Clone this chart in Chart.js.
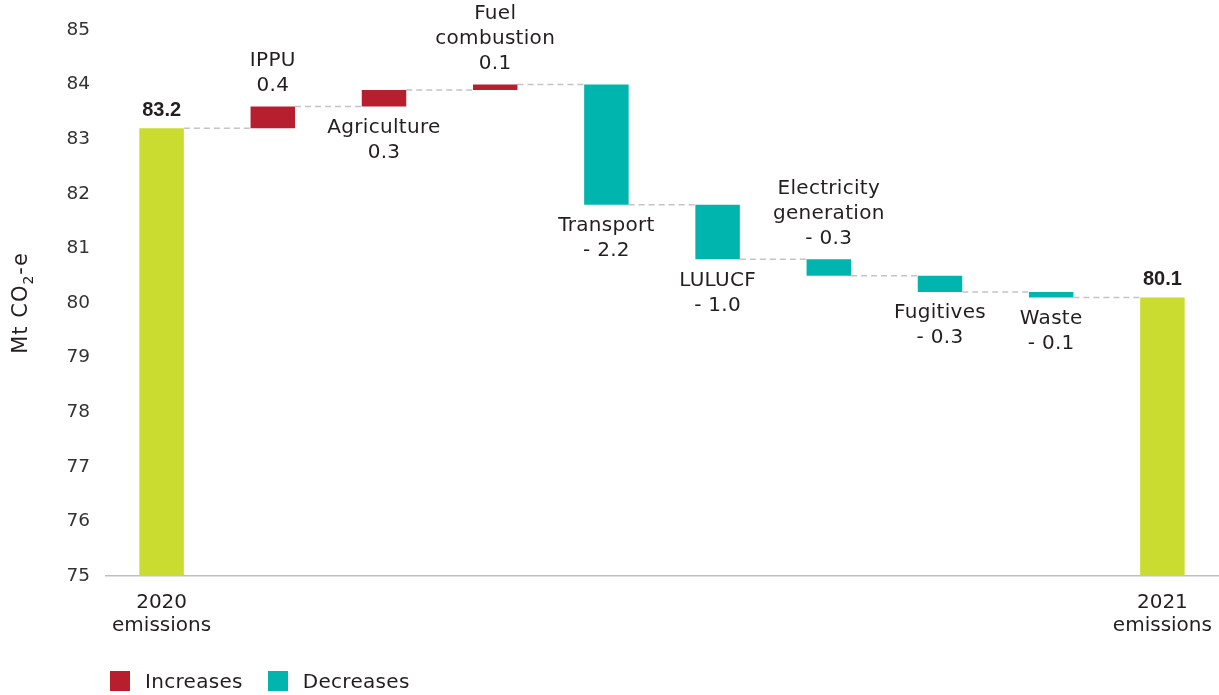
<!DOCTYPE html>
<html>
<head>
<meta charset="utf-8">
<script src="https://cdn.jsdelivr.net/npm/chart.js@4.4.1/dist/chart.umd.min.js"></script>
<style>
  html, body { margin: 0; padding: 0; background: #fff; }
  #wrap { position: relative; width: 1219px; height: 695px; font-family: "DejaVu Sans", "Noto Sans", sans-serif; color: #231f20; }
  #legend { position: absolute; left: 110px; top: 670px; display: flex; align-items: center; font-size: 20px; line-height: 22px; letter-spacing: 0.3px; }
  #legend span.key { display: inline-block; width: 20px; height: 20px; margin-right: 15px; }
  #legend span.txt { margin-right: 25px; }
</style>
</head>
<body>
<div id="wrap">
  <canvas id="chart" width="1219" height="695"></canvas>
  <div id="legend">
    <span class="key" style="background:#b81f2e"></span><span class="txt">Increases</span>
    <span class="key" style="background:#00b5ad"></span><span class="txt">Decreases</span>
  </div>
</div>
<script>
// Categorías del gráfico de cascada
const categories = ["2020 emissions", "IPPU", "Agriculture", "Fuel combustion", "Transport",
                    "LULUCF", "Electricity generation", "Fugitives", "Waste", "2021 emissions"];
const startTotal = 83.2;
const endTotal = 80.1;
// Cambios por sector (Mt CO2-e)
const changes = [0.4, 0.3, 0.1, -2.2, -1.0, -0.3, -0.3, -0.1];
const changeNames = [["IPPU"], ["Agriculture"], ["Fuel", "combustion"], ["Transport"], ["LULUCF"],
                     ["Electricity", "generation"], ["Fugitives"], ["Waste"]];
const xTickLabels = [["2020", "emissions"], "", "", "", "", "", "", "", "", ["2021", "emissions"]];
const yMin = 75, yMax = 85;

const FONT = "'DejaVu Sans', 'Noto Sans', sans-serif";
const FONT_BOLD = "'Liberation Sans', Arial, sans-serif";
const FS = 20;
const INK = "#231f20";
const colTotal = "#c9dc2f", colUp = "#b81f2e", colDown = "#00b5ad";

// Totales acumulados tras cada barra
const running = [startTotal];
changes.forEach(c => running.push(Math.round((running[running.length - 1] + c) * 10) / 10));
running.push(endTotal);

const totals = categories.map((_, i) => i === 0 ? startTotal : (i === categories.length - 1 ? endTotal : null));
const ups = categories.map((_, i) => {
  const k = i - 1;
  return (k >= 0 && k < changes.length && changes[k] > 0) ? [running[k], running[k + 1]] : null;
});
const downs = categories.map((_, i) => {
  const k = i - 1;
  return (k >= 0 && k < changes.length && changes[k] < 0) ? [running[k + 1], running[k]] : null;
});

const fmtChange = v => v < 0 ? `- ${Math.abs(v).toFixed(1)}` : v.toFixed(1);

// Líneas punteadas, etiquetas y título del eje Y
const waterfallMarks = {
  id: "waterfallMarks",
  barAt(chart, i) {
    for (let d = 0; d < chart.data.datasets.length; d++) {
      if (chart.data.datasets[d].data[i] != null) return chart.getDatasetMeta(d).data[i];
    }
    return null;
  },
  beforeDatasetsDraw(chart) {
    const { ctx } = chart;
    const y = chart.scales.y;
    ctx.save();
    ctx.strokeStyle = "#c4c4c4";
    ctx.lineWidth = 1.5;
    ctx.setLineDash([6, 4]);
    for (let i = 0; i < categories.length - 1; i++) {
      const a = this.barAt(chart, i), b = this.barAt(chart, i + 1);
      const py = y.getPixelForValue(running[i]);
      ctx.beginPath();
      ctx.moveTo(a.x + a.width / 2, py);
      ctx.lineTo(b.x - b.width / 2, py);
      ctx.stroke();
    }
    ctx.restore();
  },
  afterDatasetsDraw(chart, args, opts) {
    const { ctx } = chart;
    const y = chart.scales.y;
    const lh = 25, gap = 21;
    ctx.save();
    ctx.fillStyle = INK;
    ctx.textAlign = "center";
    ctx.textBaseline = "middle";

    // totales en negrita
    ctx.font = `bold 20px ${FONT_BOLD}`;
    [0, categories.length - 1].forEach(i => {
      const bar = this.barAt(chart, i);
      ctx.fillText(totals[i].toFixed(1), bar.x, y.getPixelForValue(totals[i]) - 18);
    });

    // sectores
    ctx.letterSpacing = "0.3px";
    ctx.font = `${FS}px ${FONT}`;
    changes.forEach((c, k) => {
      const bar = this.barAt(chart, k + 1);
      const lines = [...changeNames[k], fmtChange(c)];
      const top = y.getPixelForValue(Math.max(running[k], running[k + 1]));
      const bottom = y.getPixelForValue(Math.min(running[k], running[k + 1]));
      if (opts.above[k]) {
        const last = top - gap;
        lines.forEach((t, j) => ctx.fillText(t, bar.x, last - (lines.length - 1 - j) * lh));
      } else {
        const first = bottom + gap;
        lines.forEach((t, j) => ctx.fillText(t, bar.x, first + j * lh));
      }
    });
    ctx.restore();
  },
  afterDraw(chart) {
    // "Mt CO2-e" con subíndice, girado
    const { ctx, chartArea } = chart;
    const parts = [
      { t: "Mt CO", f: `21px ${FONT}`, dy: 0 },
      { t: "2", f: `14px ${FONT}`, dy: 7 },
      { t: "-e", f: `21px ${FONT}`, dy: 0 }
    ];
    ctx.save();
    ctx.fillStyle = INK;
    ctx.textBaseline = "middle";
    ctx.textAlign = "left";
    ctx.letterSpacing = "1px";
    let total = 0;
    parts.forEach(p => { ctx.font = p.f; p.w = ctx.measureText(p.t).width; total += p.w; });
    ctx.translate(22, (chartArea.top + chartArea.bottom) / 2);
    ctx.rotate(-Math.PI / 2);
    let x = -total / 2;
    parts.forEach(p => { ctx.font = p.f; ctx.fillText(p.t, x, p.dy); x += p.w; });
    ctx.restore();
  }
};

new Chart(document.getElementById("chart"), {
  type: "bar",
  data: {
    labels: categories,
    datasets: [
      { label: "Total", data: totals, backgroundColor: colTotal, grouped: false },
      { label: "Increases", data: ups, backgroundColor: colUp, grouped: false },
      { label: "Decreases", data: downs, backgroundColor: colDown, grouped: false }
    ]
  },
  options: {
    responsive: false,
    animation: false,
    categoryPercentage: 1,
    barPercentage: 0.4,
    layout: { padding: { top: 30, right: 1, bottom: 49, left: 0 } },
    plugins: {
      legend: { display: false },
      tooltip: { enabled: false },
      waterfallMarks: { above: [true, false, true, false, false, true, false, false] }
    },
    scales: {
      x: {
        grid: { display: false, drawTicks: false },
        border: { display: true, color: "#bfbfbf", width: 1.5 },
        ticks: {
          autoSkip: false, maxRotation: 0, padding: 15,
          color: INK, font: { family: FONT, size: FS, lineHeight: 1.15 },
          callback: (v, i) => xTickLabels[i]
        },
        afterFit: s => { s.height = 70; s.paddingLeft = 0; s.paddingRight = 0; }
      },
      y: {
        min: yMin, max: yMax,
        grid: { display: false, drawTicks: false },
        border: { display: false },
        ticks: { stepSize: 1, padding: 16, color: "#333", font: { family: FONT, size: 18.5 } },
        afterFit: s => { s.width = 106; }
      }
    }
  },
  plugins: [waterfallMarks]
});
</script>
</body>
</html>
